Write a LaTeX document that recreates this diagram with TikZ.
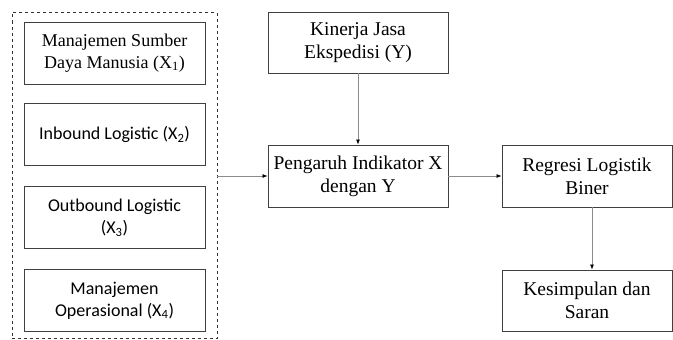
\documentclass[tikz,border=0pt]{standalone}
\usepackage{fontspec}
\setmainfont{Liberation Serif}
\newfontfamily\calib{Carlito}
\usetikzlibrary{arrows.meta}
\tikzset{
  box/.style={draw=black!75, line width=0.9pt, align=center, inner sep=0pt},
  sbox/.style={box, font=\calib\fontsize{18}{22}\selectfont},
  tbox/.style={box, font=\fontsize{19.5}{23}\selectfont},
  conn/.style={draw=black!45, line width=0.7pt, -{Latex[length=5pt,width=4pt,color=black]}},
}
\newcommand{\subx}[1]{X\textsubscript{#1}}
\begin{document}
\begin{tikzpicture}[x=1pt,y=-1pt]
\useasboundingbox (0,0) rectangle (673,340);
\fill[white] (0,0) rectangle (673,340);
% dashed container
\node[draw=black!80, dashed, line width=0.8pt, minimum width=205pt, minimum height=326pt, inner sep=0pt] (grp) at (114.5,175.5) {};
\node[tbox, font=\fontsize{18}{21.5}\selectfont, minimum width=181pt, minimum height=62pt] (x1) at (114.5,53) {Manajemen Sumber\\Daya Manusia (\subx{1})};
\node[sbox, minimum width=181pt, minimum height=62pt] (x2) at (114.5,134.5) {Inbound Logistic (\subx{2})};
\node[sbox, minimum width=181pt, minimum height=62pt] (x3) at (114.5,217.5) {Outbound Logistic\\(\subx{3})};
\node[sbox, minimum width=181pt, minimum height=62pt] (x4) at (114.5,300.5) {Manajemen\\Operasional (\subx{4})};
% right side
\node[tbox, minimum width=180pt, minimum height=61pt] (y) at (358,42.5) {Kinerja Jasa\\Ekspedisi (Y)};
\node[tbox, minimum width=180pt, minimum height=62pt] (p) at (358,176) {Pengaruh Indikator X\\dengan Y};
\node[tbox, minimum width=170pt, minimum height=62pt] (r) at (587,176) {Regresi Logistik\\Biner};
\node[tbox, minimum width=170pt, minimum height=61pt] (k) at (587,300.5) {Kesimpulan dan\\Saran};
% connectors
\draw[conn] (grp.east |- p.west) -- (p.west);
\draw[conn] (y.south) -- (p.north);
\draw[conn] (p.east) -- (r.west);
\draw[conn] (r.south -| 592,0) -- (k.north -| 592,0);
\end{tikzpicture}
\end{document}
